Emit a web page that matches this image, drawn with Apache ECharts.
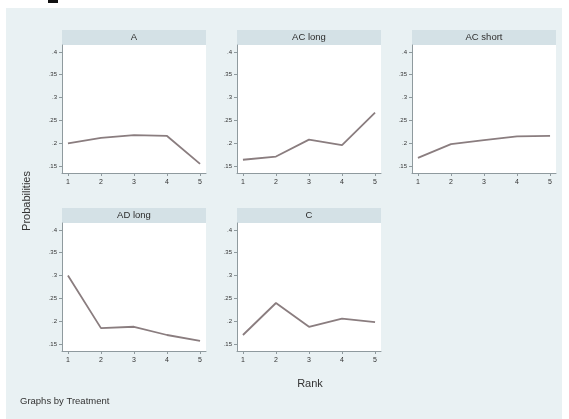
<!DOCTYPE html>
<html><head><meta charset="utf-8">
<script src="https://cdn.jsdelivr.net/npm/echarts@6/dist/echarts.min.js"></script>
<style>html,body{margin:0;padding:0;background:#fff}#c{width:569px;height:419px}</style>
</head><body><div id="c"></div>
<script>
const panels = ["A", "AC long", "AC short", "AD long", "C"];
const ranks = [1, 2, 3, 4, 5];
const yTicks = [0.15, 0.2, 0.25, 0.3, 0.35, 0.4];
const valA = [0.200, 0.212, 0.218, 0.216, 0.155];
const valACLong = [0.164, 0.171, 0.208, 0.196, 0.267];
const valACShort = [0.168, 0.198, 0.207, 0.215, 0.216];
const valADLong = [0.300, 0.185, 0.188, 0.170, 0.157];
const valC = [0.170, 0.240, 0.188, 0.206, 0.198];
const allVals = [valA, valACLong, valACShort, valADLong, valC];

const lefts = [62, 237, 412];
const W = 144, H = 128, HDR = 15;
const tops = [45, 223];
const font = '"Liberation Sans", Arial, sans-serif';

const grids = [], xAxes = [], yAxes = [], series = [], graphics = [];
graphics.push({type:'rect', shape:{x:6, y:8, width:556, height:411}, style:{fill:'#e9f1f3'}, z:-10});
graphics.push({type:'rect', shape:{x:48, y:0, width:10, height:3}, style:{fill:'#111'}, z:-9});
panels.forEach((name, i) => {
  const col = i % 3, row = Math.floor(i / 3);
  const L = lefts[col], T = tops[row];
  grids.push({left:L, top:T, width:W, height:H, show:true, backgroundColor:'#ffffff', borderWidth:0});
  graphics.push({type:'rect', shape:{x:L, y:T-HDR, width:W, height:HDR}, style:{fill:'#d4e1e6'}, z:-5});
  graphics.push({type:'text', x:L+W/2, y:T-HDR/2, style:{text:name, fill:'#2c2c2c', font:'9.5px ' + font, textAlign:'center', textVerticalAlign:'middle'}});
  xAxes.push({type:'value', gridIndex:i, min:0.82, max:5.18,
    axisLine:{show:true, lineStyle:{color:'#8f9a9e', width:1}},
    axisTick:{show:true, length:3, lineStyle:{color:'#8f9a9e'}, customValues:ranks},
    axisLabel:{show:true, fontSize:7, color:'#333', fontFamily:font, margin:6, customValues:ranks},
    splitLine:{show:false}});
  yAxes.push({type:'value', gridIndex:i, min:0.135, max:0.415,
    axisLine:{show:true, lineStyle:{color:'#8f9a9e', width:1}},
    axisTick:{show:true, length:3, lineStyle:{color:'#8f9a9e'}, customValues:yTicks},
    axisLabel:{show:true, fontSize:6, color:'#333', fontFamily:font, margin:5, customValues:yTicks,
      formatter: v => String(+v.toFixed(2)).replace(/^0/, '')},
    splitLine:{show:false}});
  series.push({type:'line', xAxisIndex:i, yAxisIndex:i, data: ranks.map((r, k) => [r, allVals[i][k]]),
    showSymbol:false, symbol:'none', lineStyle:{color:'#8a7d7f', width:1.8}, silent:true, animation:false});
});
graphics.push({type:'text', x:310, y:384, style:{text:'Rank', fill:'#333', font:'11px ' + font, textAlign:'center', textVerticalAlign:'middle'}});
graphics.push({type:'text', x:27, y:201, rotation:Math.PI/2, style:{text:'Probabilities', fill:'#333', font:'11px ' + font, textAlign:'center', textVerticalAlign:'middle'}});
graphics.push({type:'text', x:20, y:401, style:{text:'Graphs by Treatment', fill:'#333', font:'9.5px ' + font, textAlign:'left', textVerticalAlign:'middle'}});

const chart = echarts.init(document.getElementById('c'), null, {renderer:'canvas'});
chart.setOption({animation:false, grid:grids, xAxis:xAxes, yAxis:yAxes, series:series, graphic:graphics});
</script></body></html>
